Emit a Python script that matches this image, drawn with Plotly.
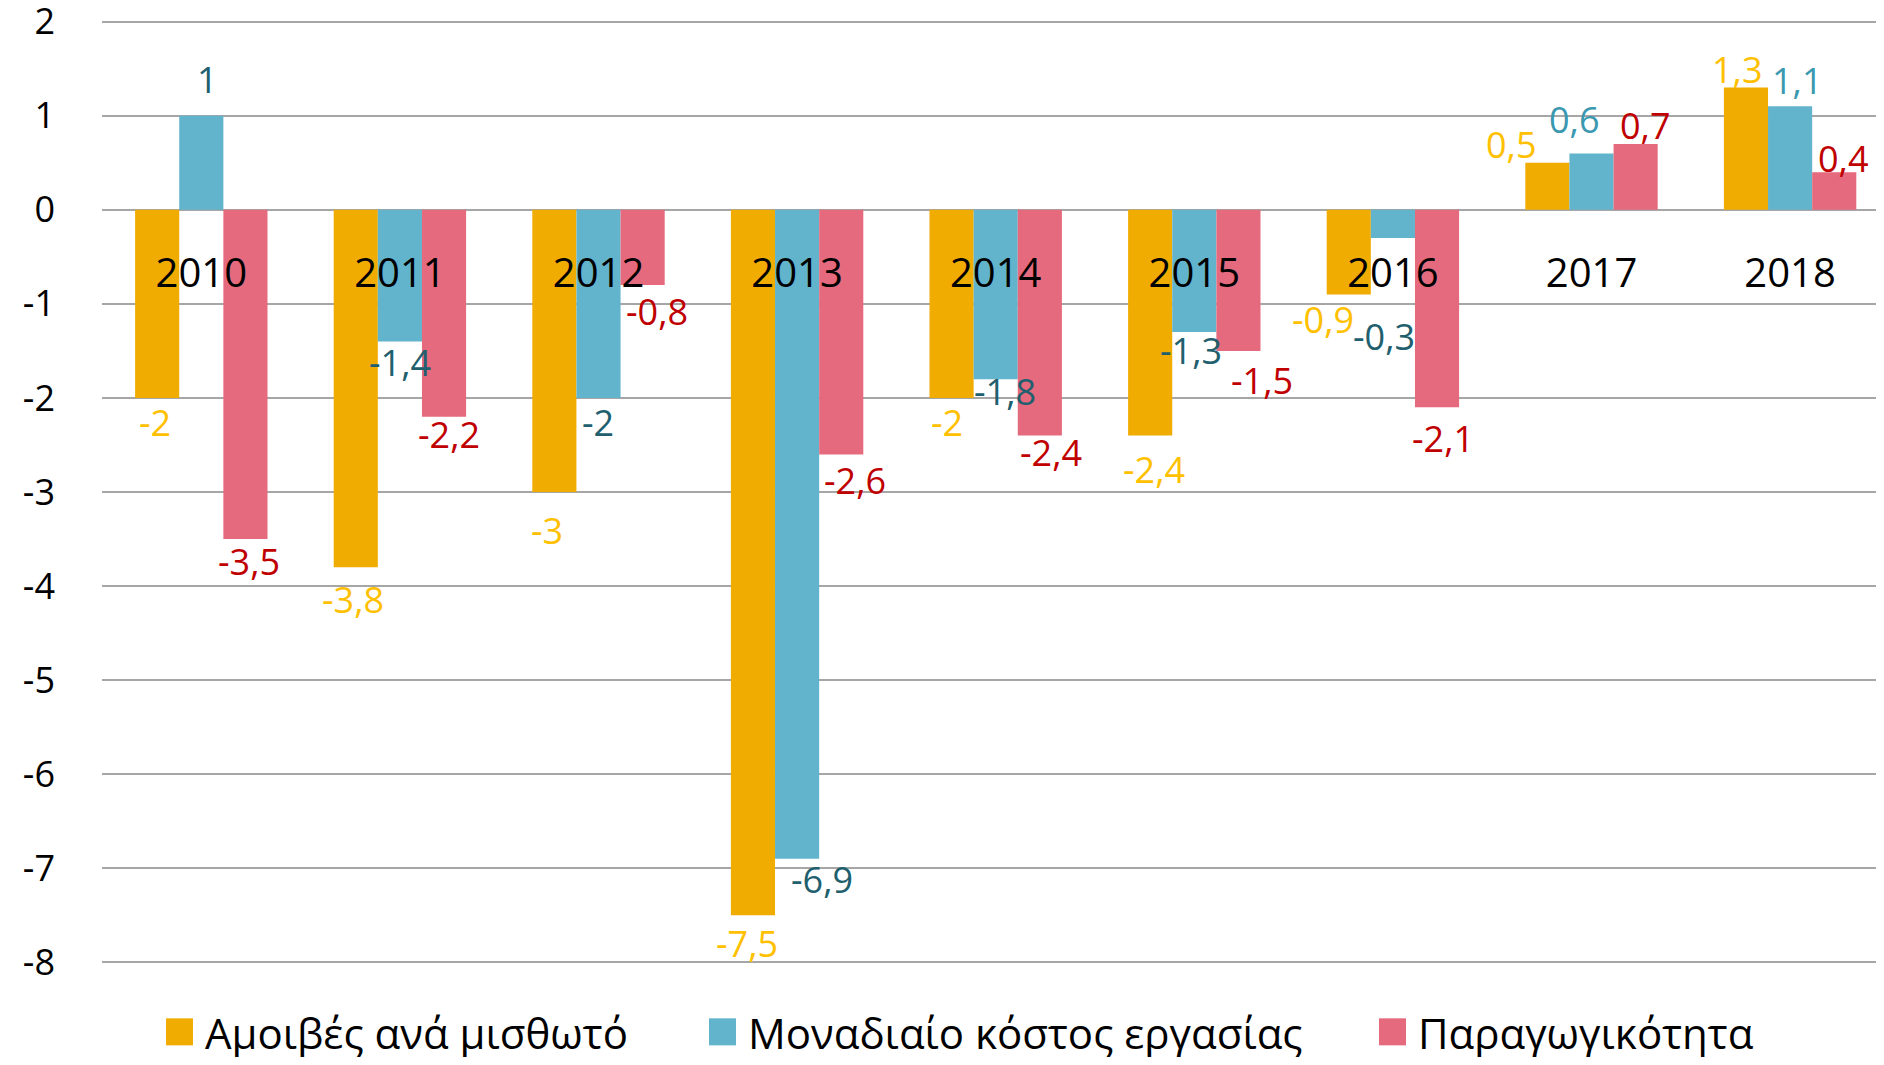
import plotly.graph_objects as go

# ---- data ----
years = ["2010", "2011", "2012", "2013", "2014", "2015", "2016", "2017", "2018"]
series_names = ["Αμοιβές ανά μισθωτό", "Μοναδιαίο κόστος εργασίας", "Παραγωγικότητα"]
wages = [-2.0, -3.8, -3.0, -7.5, -2.0, -2.4, -0.9, 0.5, 1.3]
ulc = [1.0, -1.4, -2.0, -6.9, -1.8, -1.3, -0.3, 0.6, 1.1]
productivity = [-3.5, -2.2, -0.8, -2.6, -2.4, -1.5, -2.1, 0.7, 0.4]
y_ticks = [2, 1, 0, -1, -2, -3, -4, -5, -6, -7, -8]
y_ticktext = ["2", "1", "0", "-1", "-2", "-3", "-4", "-5", "-6", "-7", "-8"]

# ---- styles ----
bar_colors = ["#F0AC00", "#62B3CC", "#E66A7D"]
label_colors = [
    ["#FFC000"] * 9,
    ["#215F6E"] * 7 + ["#3A98B0", "#3A98B0"],
    ["#C00000"] * 9,
]
# per-label pixel nudges (x, y from bar end) to mimic the reference placement
label_dx = [
    [-2, -3, -7, -6, -5, 4, -26, -36, -9],
    [6, 0, -1, 25, 9, -3, -9, -18, 7],
    [4, 5, 14, 14, 11, 24, 6, 9, 9],
]
label_dy = [
    [-27, -34, -40, -30, -27, -36, -27, 16, 16],
    [34, -23, -27, -23, -14, -20, -100, 32, 24],
    [-24, -20, -28, -28, -19, -32, -33, 16, 12],
]

# page has an 8px body margin; figure sized to fit the window without scrollbars
OFF = 8
W, H = 1884 - 2 * OFF, 1065 - 2 * OFF
PX_PER_UNIT = 94.0
PAD = 0.05  # small range padding so the 2 and -8 gridlines are drawn
Y_LO, Y_HI = -8 - PAD, 2 + PAD
PLOT_L = 102 - OFF
PLOT_T = 22 - OFF - PAD * PX_PER_UNIT
PLOT_B = 962 - OFF + PAD * PX_PER_UNIT
ML, MR, MT, MB = PLOT_L, 0, PLOT_T, H - PLOT_B
PW, PH = W - ML - MR, H - MT - MB
PX_PER_CAT = 198.6
x_max = -0.5 + PW / PX_PER_CAT
FONT = "Open Sans"

xs = list(range(len(years)))
all_series = [wages, ulc, productivity]

fig = go.Figure()
for name, vals, col in zip(series_names, all_series, bar_colors):
    fig.add_trace(go.Bar(
        x=xs, y=vals, name=name, marker=dict(color=col, line=dict(width=0)),
        showlegend=False,
    ))

bargap = 1 / 3
bw = (1 - bargap) / 3
annotations = []
for s, vals in enumerate(all_series):
    off = (s - 1) * bw
    for i, v in enumerate(vals):
        txt = f"{v:g}".replace(".", ",")
        annotations.append(dict(
            x=i + off, y=v, xref="x", yref="y", text=txt, showarrow=False,
            xanchor="center", yanchor="middle",
            xshift=label_dx[s][i], yshift=label_dy[s][i] + 2,
            font=dict(family=FONT, size=36, color=label_colors[s][i]),
        ))

# legend (manual, to get the large squares of the reference); page pixel coords
leg_sq_x = [166, 709, 1379]
leg_txt_x = [203, 746, 1416]
leg_y = 1032
shapes = []
for k, name in enumerate(series_names):
    sx = leg_sq_x[k] - OFF
    ly = leg_y - OFF
    shapes.append(dict(type="rect", xref="paper", yref="paper",
                       x0=(sx - ML) / PW, x1=(sx + 27 - ML) / PW,
                       y0=(H - MB - (ly + 13)) / PH, y1=(H - MB - (ly - 14)) / PH,
                       fillcolor=bar_colors[k], line=dict(width=0)))
    annotations.append(dict(
        x=(leg_txt_x[k] - OFF - ML) / PW, y=(H - MB - ly) / PH, xref="paper", yref="paper",
        text=name, showarrow=False, xanchor="left", yanchor="middle",
        font=dict(family=FONT, size=42, color="#000000"),
    ))

fig.update_layout(
    width=W, height=H,
    margin=dict(l=ML, r=MR, t=MT, b=MB, autoexpand=False),
    paper_bgcolor="white", plot_bgcolor="white",
    barmode="group", bargap=bargap, bargroupgap=0,
    font=dict(family=FONT, color="#000000"),
    annotations=annotations, shapes=shapes,
    showlegend=False,
    xaxis=dict(
        range=[-0.5, x_max], tickvals=xs, ticktext=years,
        showgrid=False, showline=False, zeroline=False, ticks="",
        anchor="free", position=(H - MB - (210 - OFF)) / PH, side="bottom",
        ticklabelstandoff=36, automargin=False,
        tickfont=dict(family=FONT, size=40, color="#000000"),
    ),
    yaxis=dict(
        range=[Y_LO, Y_HI], tickvals=y_ticks, ticktext=y_ticktext,
        showgrid=True, gridcolor="#A6A6A6", gridwidth=1.5,
        zeroline=True, zerolinecolor="#A6A6A6", zerolinewidth=1.5,
        showline=False, ticks="", ticklabelstandoff=46,
        ticklabeloverflow="allow", automargin=False,
        tickfont=dict(family=FONT, size=36, color="#000000"),
    ),
)

fig.write_html("out.html")
